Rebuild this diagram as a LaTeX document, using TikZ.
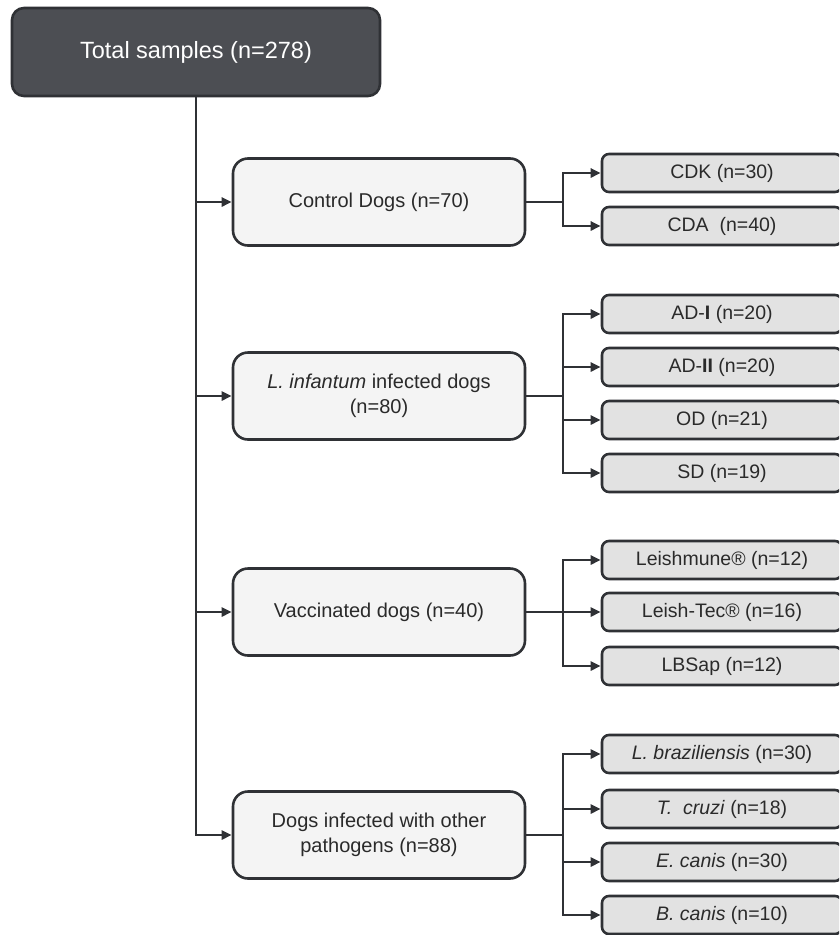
\documentclass[tikz,border=0pt]{standalone}
\usepackage{fontspec}
\setmainfont{Liberation Sans}
\usetikzlibrary{arrows.meta}
\definecolor{darkbox}{HTML}{4C4E53}
\definecolor{edge}{HTML}{2F3135}
\definecolor{midfill}{HTML}{F4F4F4}
\definecolor{subfill}{HTML}{E2E2E2}
\definecolor{txt}{HTML}{2A2A2A}
\tikzset{
  topbox/.style={draw=edge, line width=2.6pt, fill=darkbox, rounded corners=12pt,
    minimum width=368pt, minimum height=88pt, inner sep=0pt, text=white,
    font=\fontsize{23.5}{28}\selectfont},
  midbox/.style={draw=edge, line width=2.6pt, fill=midfill, rounded corners=15pt,
    minimum width=292pt, minimum height=87pt, inner sep=0pt, text=txt, align=center,
    font=\fontsize{20}{25}\selectfont},
  subbox/.style={draw=edge, line width=2.6pt, fill=subfill, rounded corners=7pt,
    minimum width=240pt, minimum height=38pt, inner sep=0pt, text=txt,
    font=\fontsize{19.5}{24}\selectfont},
  conn/.style={draw=edge, line width=2.6pt},
  arr/.style={conn, -{Triangle[length=10pt,width=9pt]}}
}
\begin{document}
\begin{tikzpicture}[x=1pt,y=-1pt]
\useasboundingbox (0,0) rectangle (839,935);
\clip (0,0) rectangle (839,935);
\node[topbox] (top) at (196,52) {Total samples (n=278)};

\node[midbox] (m1) at (379,202) {Control Dogs (n=70)};
\node[midbox] (m2) at (379,396) {\textit{L. infantum} infected dogs\\(n=80)};
\node[midbox] (m3) at (379,612) {Vaccinated dogs (n=40)};
\node[midbox] (m4) at (379,835) {Dogs infected with other\\pathogens (n=88)};

\node[subbox] (s11) at (722,173) {CDK (n=30)};
\node[subbox] (s12) at (722,226) {CDA\ \ (n=40)};

\node[subbox] (s21) at (722,314) {AD-\textbf{I} (n=20)};
\node[subbox] (s22) at (722,367) {AD-\textbf{II} (n=20)};
\node[subbox] (s23) at (722,420) {OD (n=21)};
\node[subbox] (s24) at (722,473) {SD (n=19)};

\node[subbox] (s31) at (722,560) {Leishmune® (n=12)};
\node[subbox] (s32) at (722,612) {Leish-Tec® (n=16)};
\node[subbox] (s33) at (722,666) {LBSap (n=12)};

\node[subbox] (s41) at (722,754) {\textit{L. braziliensis} (n=30)};
\node[subbox] (s42) at (722,809) {\textit{T.\ \ cruzi} (n=18)};
\node[subbox] (s43) at (722,862) {\textit{E. canis} (n=30)};
\node[subbox] (s44) at (722,915) {\textit{B. canis} (n=10)};

% trunk
\draw[arr] (top.south) |- (m4.west);
\draw[arr] (top.south |- m1.west) -- (m1.west);
\draw[arr] (top.south |- m2.west) -- (m2.west);
\draw[arr] (top.south |- m3.west) -- (m3.west);

% branches
\coordinate (b1) at (563,202);
\coordinate (b2) at (563,396);
\coordinate (b3) at (563,612);
\coordinate (b4) at (563,835);
\draw[conn] (m1.east) -- (b1);
\draw[conn] (m2.east) -- (b2);
\draw[conn] (m3.east) -- (b3);
\draw[conn] (m4.east) -- (b4);
\foreach \s in {s11,s12} \draw[arr] (b1) |- (\s.west);
\foreach \s in {s21,s22,s23,s24} \draw[arr] (b2) |- (\s.west);
\foreach \s in {s31,s32,s33} \draw[arr] (b3) |- (\s.west);
\foreach \s in {s41,s42,s43,s44} \draw[arr] (b4) |- (\s.west);
\end{tikzpicture}
\end{document}
